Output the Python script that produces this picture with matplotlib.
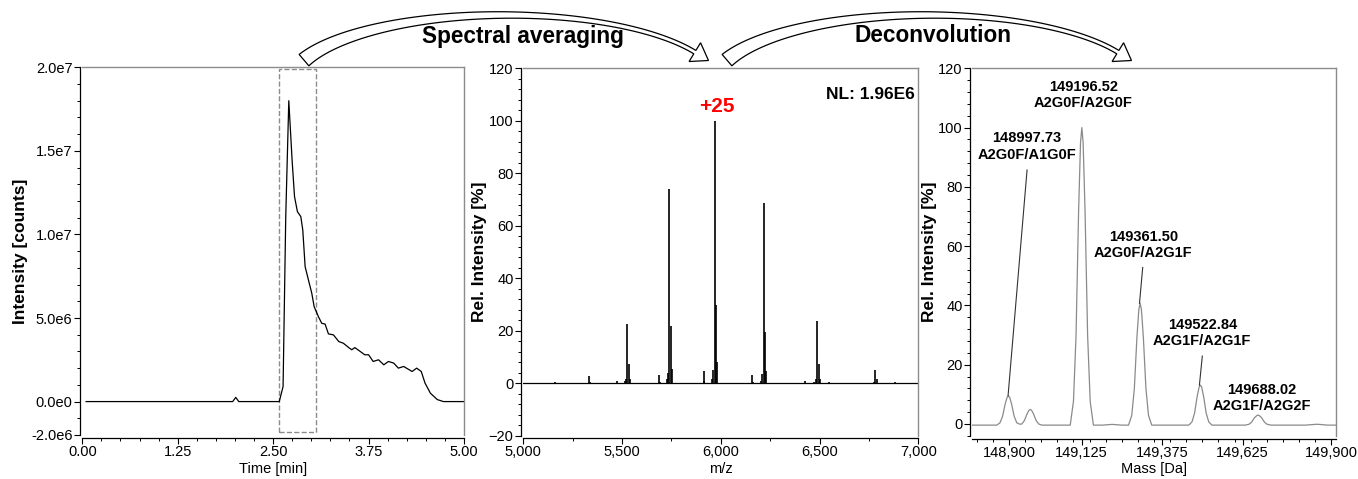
import numpy as np
import matplotlib
matplotlib.use('Agg')
import matplotlib.pyplot as plt
from matplotlib.patches import Rectangle, Polygon
from matplotlib.ticker import FixedLocator, MultipleLocator, FuncFormatter

plt.rcParams['font.family'] = ['Liberation Sans', 'DejaVu Sans']

# --- chromatogram (TIC), intensity in 1e6 counts
time_min = [0.05, 1.97, 2.01, 2.05, 2.58, 2.63, 2.665, 2.705, 2.748, 2.78,
            2.818, 2.862, 2.888, 2.919, 2.962, 3.006, 3.037, 3.093, 3.137, 3.18,
            3.224, 3.29, 3.36, 3.42, 3.49, 3.53, 3.57, 3.64, 3.70, 3.75,
            3.81, 3.88, 3.95, 4.01, 4.08, 4.14, 4.21, 4.32, 4.38, 4.44,
            4.49, 4.56, 4.65, 4.73, 5.0]
tic_e6 = [0, 0, 0.25, 0, 0, 0.9, 11.07, 18.0, 14.46, 12.26,
          11.36, 11.07, 10.27, 8.07, 7.28, 6.48, 5.68, 5.08, 4.68, 4.64,
          4.05, 3.99, 3.59, 3.49, 3.23, 3.1, 3.23, 3.0, 2.8, 2.8,
          2.4, 2.5, 2.2, 2.4, 2.3, 2.0, 2.1, 1.8, 2.0, 1.8,
          1.1, 0.5, 0.12, 0, 0]
avg_window = (2.58, 3.055)

# --- averaged mass spectrum (centroid sticks)
stick_mz = [5160, 5333, 5336, 5474, 5515, 5521, 5527, 5533, 5539, 5687,
            5690, 5728, 5734, 5740, 5746, 5752, 5913, 5916, 5956, 5962,
            5969, 5975, 5982, 6158, 6161, 6203, 6210, 6217, 6224, 6231,
            6428, 6474, 6481, 6488, 6495, 6502, 6550, 6776, 6783, 6790, 6880]
stick_int = [0.3, 2.7, 0.6, 0.8, 0.8, 1.5, 22.6, 7.3, 1.5, 3.1,
             0.6, 1.5, 4.0, 73.9, 21.8, 5.5, 4.6, 0.8, 1.5, 5.0,
             100, 29.8, 8.0, 3.2, 0.6, 1.0, 3.5, 68.5, 19.6, 4.5,
             1.0, 0.5, 1.5, 23.8, 7.3, 1.5, 0.4, 0.5, 5.0, 1.5, 0.5]
charge_label = '+25'
charge_mz = 5979
nl_text = 'NL: 1.96E6'

# --- deconvoluted profile
mass_da = [148786, 148862, 148872, 148880, 148888, 148894, 148898, 148902, 148908, 148916,
           148924, 148934, 148940, 148948, 148956, 148962, 148966, 148970, 148976, 148984,
           148992, 149002, 149060, 149090, 149100, 149108, 149116, 149122, 149126, 149130,
           149136, 149144, 149152, 149162, 149190, 149220, 149250, 149271, 149281, 149289,
           149297, 149303, 149307, 149311, 149317, 149325, 149333, 149343, 149458, 149468,
           149476, 149484, 149490, 149494, 149498, 149504, 149512, 149520, 149530, 149633,
           149645, 149653, 149662, 149669, 149673, 149677, 149684, 149693, 149701, 149713,
           149820, 149856, 149890, 149915]
rel_int = [-0.4, -0.4, 0.4, 2.6, 6.7, 9.0, 9.5, 9.0, 6.7, 2.6,
           0.4, -0.1, 0.0, 1.2, 3.4, 4.6, 4.9, 4.6, 3.4, 1.2,
           0.0, -0.4, -0.4, -0.4, 7.6, 29.7, 71.9, 95.0, 100, 95.0,
           71.9, 29.7, 7.6, -0.4, -0.4, -0.15, -0.4, -0.4, 2.9, 11.9,
           29.2, 38.6, 40.7, 38.6, 29.2, 11.9, 2.9, -0.4, -0.4, 0.7,
           3.65, 9.3, 12.4, 13.1, 12.4, 9.3, 3.65, 0.7, -0.4, -0.4,
           -0.1, 0.6, 2.1, 2.8, 3.0, 2.8, 2.1, 0.6, -0.1, -0.4,
           -0.4, -0.1, -0.4, -0.4]
peak_mass = ['148997.73', '149196.52', '149361.50', '149522.84', '149688.02']
peak_name = ['A2G0F/A1G0F', 'A2G0F/A2G0F', 'A2G0F/A2G1F', 'A2G1F/A2G1F', 'A2G1F/A2G2F']
# label placement (data coords) and leader lines
label_xy = [(148956, 93.6), (149131, 111.0), (149317, 60.4), (149500, 30.7), (149686, 8.7)]
leaders = [((148956, 85.7), (148897, 9.5)), None,
           ((149315, 52.8), (149305, 40.7)),
           ((149500, 22.9), (149491, 13.1)), None]

W, H = 1358, 479
fig = plt.figure(figsize=(W / 100, H / 100), dpi=100)


def box(l, t, r, b):
    return [l / W, 1 - b / H, (r - l) / W, (b - t) / H]


def style(ax):
    for s in ['top', 'right']:
        ax.spines[s].set_color('#8c8c8c')
        ax.spines[s].set_linewidth(1.0)
    for s in ['left', 'bottom']:
        ax.spines[s].set_position(('outward', 2))
        ax.spines[s].set_linewidth(0.9)
    ax.tick_params(which='major', direction='out', length=4, width=0.8,
                   labelsize=10.5, pad=1)
    ax.tick_params(which='minor', direction='out', length=2.5, width=0.7)


ax1 = fig.add_axes(box(82.3, 67.3, 464, 435))
ax2 = fig.add_axes(box(523.3, 68.3, 918.3, 435.7))
ax3 = fig.add_axes(box(972.3, 68.3, 1336, 435.8))
for ax in (ax1, ax2, ax3):
    style(ax)

# panel 1: chromatogram
ax1.plot(time_min, np.array(tic_e6) * 1e6, color='black', lw=0.9)
ax1.add_patch(Rectangle((avg_window[0], -1.8e6), avg_window[1] - avg_window[0], 2.17e7,
                        fill=False, ec='#8c8c8c', ls='--', lw=1.0))
ax1.set_xlim(0, 5)
ax1.set_ylim(-2e6, 2e7)
ax1.xaxis.set_major_locator(FixedLocator([0, 1.25, 2.5, 3.75, 5.0]))
ax1.xaxis.set_major_formatter(FuncFormatter(lambda v, p: f'{v:.2f}'))
ax1.xaxis.set_minor_locator(MultipleLocator(0.25))
yt = [-2e6, 0, 5e6, 1e7, 1.5e7, 2e7]
ax1.yaxis.set_major_locator(FixedLocator(yt))
ax1.set_yticklabels(['-2.0e6', '0.0e0', '5.0e6', '1.0e7', '1.5e7', '2.0e7'])
ax1.yaxis.set_minor_locator(MultipleLocator(1e6))
ax1.set_xlabel('Time [min]', fontsize=10.5, labelpad=2)
ax1.set_ylabel('Intensity [counts]', fontsize=12.5, fontweight='bold', labelpad=2)

# panel 2: mass spectrum
ax2.axhline(0, color='black', lw=0.9)
ax2.vlines(stick_mz, 0, stick_int, color='black', lw=1.2)
ax2.set_xlim(5000, 7000)
ax2.set_ylim(-20, 120)
ax2.xaxis.set_major_locator(MultipleLocator(500))
ax2.xaxis.set_minor_locator(MultipleLocator(250))
ax2.xaxis.set_major_formatter(FuncFormatter(lambda v, p: f'{v:,.0f}'))
ax2.yaxis.set_major_locator(MultipleLocator(20))
ax2.yaxis.set_minor_locator(MultipleLocator(4))
ax2.text(charge_mz, 105.3, charge_label, color='red', fontsize=15, fontweight='bold',
         ha='center', va='center')
ax2.text(0.99, 0.93, nl_text, transform=ax2.transAxes, fontsize=12.5, fontweight='bold',
         ha='right', va='center')
ax2.set_xlabel('m/z', fontsize=10.5, labelpad=2)
ax2.set_ylabel('Rel. Intensity [%]', fontsize=12.5, fontweight='bold', labelpad=1)

# panel 3: deconvoluted mass
ax3.plot(mass_da, rel_int, color='#8a8a8a', lw=0.9)
for (lx, ly), m, n, ld in zip(label_xy, peak_mass, peak_name, leaders):
    ax3.text(lx, ly, m + '\n' + n, ha='center', va='center', fontsize=10.5,
             fontweight='bold', linespacing=1.2)
    if ld is not None:
        (x0, y0), (x1, y1) = ld
        ax3.plot([x0, x1], [y0, y1], color='#333333', lw=0.8)
ax3.set_xlim(148786, 149915)
ax3.set_ylim(-4, 120)
ax3.xaxis.set_major_locator(FixedLocator([148900, 149125, 149375, 149625, 149900]))
ax3.xaxis.set_minor_locator(MultipleLocator(50))
ax3.xaxis.set_major_formatter(FuncFormatter(lambda v, p: f'{v:,.0f}'))
ax3.yaxis.set_major_locator(MultipleLocator(20))
ax3.yaxis.set_minor_locator(MultipleLocator(4))
ax3.set_xlabel('Mass [Da]', fontsize=10.5, labelpad=2)
ax3.set_ylabel('Rel. Intensity [%]', fontsize=12.5, fontweight='bold', labelpad=1)


# workflow arrows (hollow, tapering, elliptical arc) -- built in pixel space
def hollow_arrow(shift):
    th = np.linspace(np.radians(159.2), np.radians(28), 120)
    cx, cy, a, b = 505 + shift, 85, 215, 70
    px = cx + a * np.cos(th)
    py = cy - b * np.sin(th)
    tx, ty = a * np.sin(th), b * np.cos(th)
    norm = np.hypot(tx, ty)
    tx, ty = tx / norm, ty / norm
    nx, ny = -ty, tx
    s = np.linspace(0, 1, th.size)
    w = 4 + 11 * (1 - s) ** 2
    left = np.column_stack([px + nx * w / 2, py + ny * w / 2])
    right = np.column_stack([px - nx * w / 2, py - ny * w / 2])
    ex, ey = px[-1], py[-1]
    head = np.array([[ex + nx[-1] * 11, ey + ny[-1] * 11],
                     [ex + tx[-1] * 16, ey + ty[-1] * 16],
                     [ex - nx[-1] * 11, ey - ny[-1] * 11]])
    pts = np.vstack([left, head, right[::-1]])
    pts = np.column_stack([pts[:, 0] / W, 1 - pts[:, 1] / H])
    return Polygon(pts, closed=True, fc='white', ec='black', lw=0.9,
                   transform=fig.transFigure)


for shift in (0, 423):
    fig.add_artist(hollow_arrow(shift))

fig.text(522.5 / W, 1 - 37 / H, 'Spectral averaging', fontsize=16.3, fontweight='bold',
         ha='center', va='center')
fig.text(933 / W, 1 - 36 / H, 'Deconvolution', fontsize=16.3, fontweight='bold',
         ha='center', va='center')

plt.savefig('out.png', dpi=100)
